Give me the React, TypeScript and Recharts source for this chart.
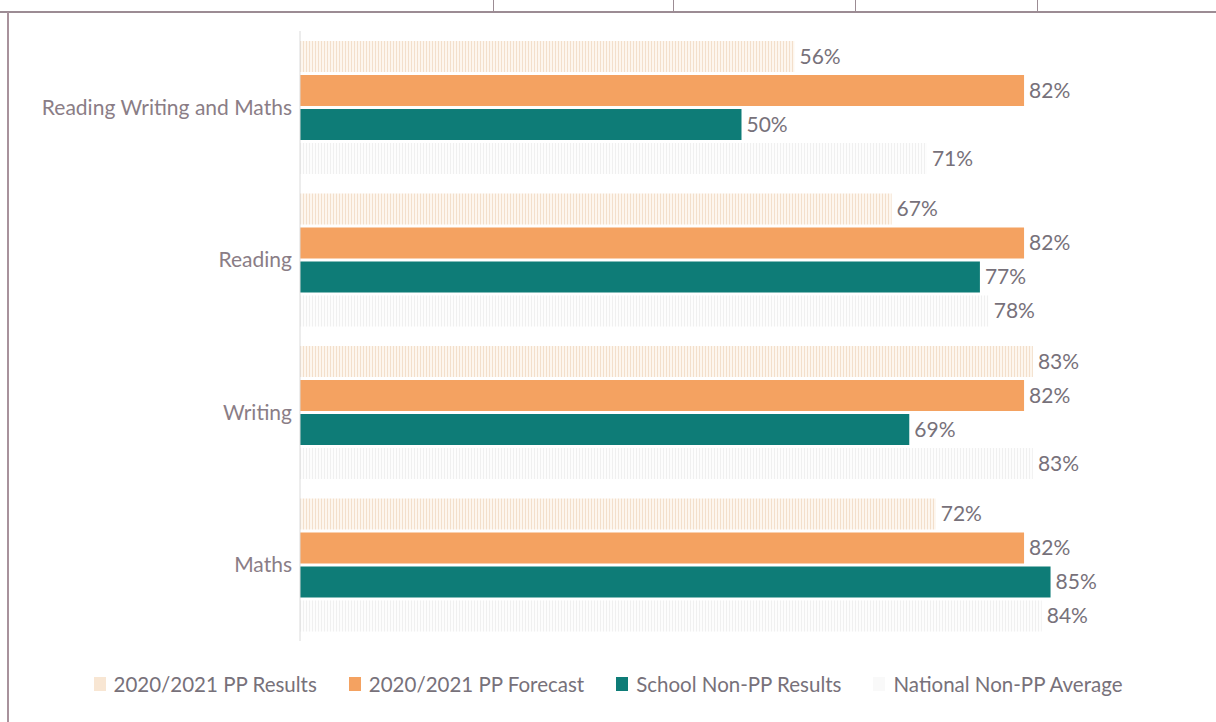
import { BarChart, Bar, XAxis, YAxis, LabelList } from "recharts";

const categories = ["Reading Writing and Maths", "Reading", "Writing", "Maths"];
const ppResults = [56, 67, 83, 72];
const ppForecast = [82, 82, 82, 82];
const schoolNonPP = [50, 77, 69, 85];
const nationalNonPP = [71, 78, 83, 84];

const seriesNames = [
  "2020/2021 PP Results",
  "2020/2021 PP Forecast",
  "School Non-PP Results",
  "National Non-PP Average",
];

const data = categories.map((name, i) => ({
  name,
  ppResults: ppResults[i],
  ppForecast: ppForecast[i],
  schoolNonPP: schoolNonPP[i],
  nationalNonPP: nationalNonPP[i],
}));

const labelColor = "#77717a";
const legendMarkers = ["#f8e6d3", "#f4a261", "#0e7c77", "#f9f9f9"];

const pct = (v: number) => `${v}%`;

function LegendRow() {
  return (
    <div
      style={{
        position: "absolute",
        top: 672,
        left: 0,
        width: 1216,
        display: "flex",
        justifyContent: "center",
        alignItems: "center",
        gap: 32,
        fontSize: 20.5,
        color: labelColor,
        fontFamily: "Lato, sans-serif",
      }}
    >
      {seriesNames.map((n, i) => (
        <div key={n} style={{ display: "flex", alignItems: "center", gap: 8 }}>
          <svg width={12} height={14}>
            <rect width={12} height={14} fill={legendMarkers[i]} />
          </svg>
          <span>{n}</span>
        </div>
      ))}
    </div>
  );
}

export default function App() {
  const frame = "#9c8c94";
  return (
    <div
      style={{
        position: "absolute",
        top: 0,
        left: 0,
        width: 1216,
        height: 722,
        background: "#fff",
        fontFamily: "Lato, sans-serif",
      }}
    >
      <div style={{ position: "absolute", top: 11, left: 0, width: 1216, height: 2, background: frame }} />
      {[493, 673, 855, 1037].map((x) => (
        <div key={x} style={{ position: "absolute", top: 0, left: x, width: 1, height: 12, background: frame }} />
      ))}
      <div style={{ position: "absolute", top: 12, left: 7, width: 2, height: 710, background: "#a8929c" }} />
      <div style={{ position: "absolute", top: 0, left: 0 }}>
        <BarChart
          width={1216}
          height={722}
          data={data}
          layout="vertical"
          margin={{ top: 31, right: 33, bottom: 81, left: 10 }}
          barGap={3}
          barCategoryGap={10}
        >
          <defs>
            <pattern id="stripeBeige" width={3} height={4} patternUnits="userSpaceOnUse">
              <rect width={3} height={4} fill="#fdf6ee" />
              <rect width={1} height={4} fill="#f3dfcb" />
            </pattern>
            <pattern id="stripeGrey" width={3} height={4} patternUnits="userSpaceOnUse">
              <rect width={3} height={4} fill="#fdfdfd" />
              <rect width={1} height={4} fill="#f0f0f0" />
            </pattern>
          </defs>
          <XAxis type="number" domain={[0, 100]} hide />
          <YAxis
            type="category"
            dataKey="name"
            width={290}
            axisLine={{ stroke: "#dadada" }}
            tickLine={false}
            tick={{ fill: "#8a7d86", fontSize: 21 }}
          />
          <Bar dataKey="ppResults" name={seriesNames[0]} fill="url(#stripeBeige)" isAnimationActive={false}>
            <LabelList dataKey="ppResults" position="right" formatter={pct} fill={labelColor} fontSize={21} />
          </Bar>
          <Bar dataKey="ppForecast" name={seriesNames[1]} fill="#f4a261" isAnimationActive={false}>
            <LabelList dataKey="ppForecast" position="right" formatter={pct} fill={labelColor} fontSize={21} />
          </Bar>
          <Bar dataKey="schoolNonPP" name={seriesNames[2]} fill="#0e7c77" isAnimationActive={false}>
            <LabelList dataKey="schoolNonPP" position="right" formatter={pct} fill={labelColor} fontSize={21} />
          </Bar>
          <Bar dataKey="nationalNonPP" name={seriesNames[3]} fill="url(#stripeGrey)" isAnimationActive={false}>
            <LabelList dataKey="nationalNonPP" position="right" formatter={pct} fill={labelColor} fontSize={21} />
          </Bar>
        </BarChart>
      </div>
      <LegendRow />
    </div>
  );
}
